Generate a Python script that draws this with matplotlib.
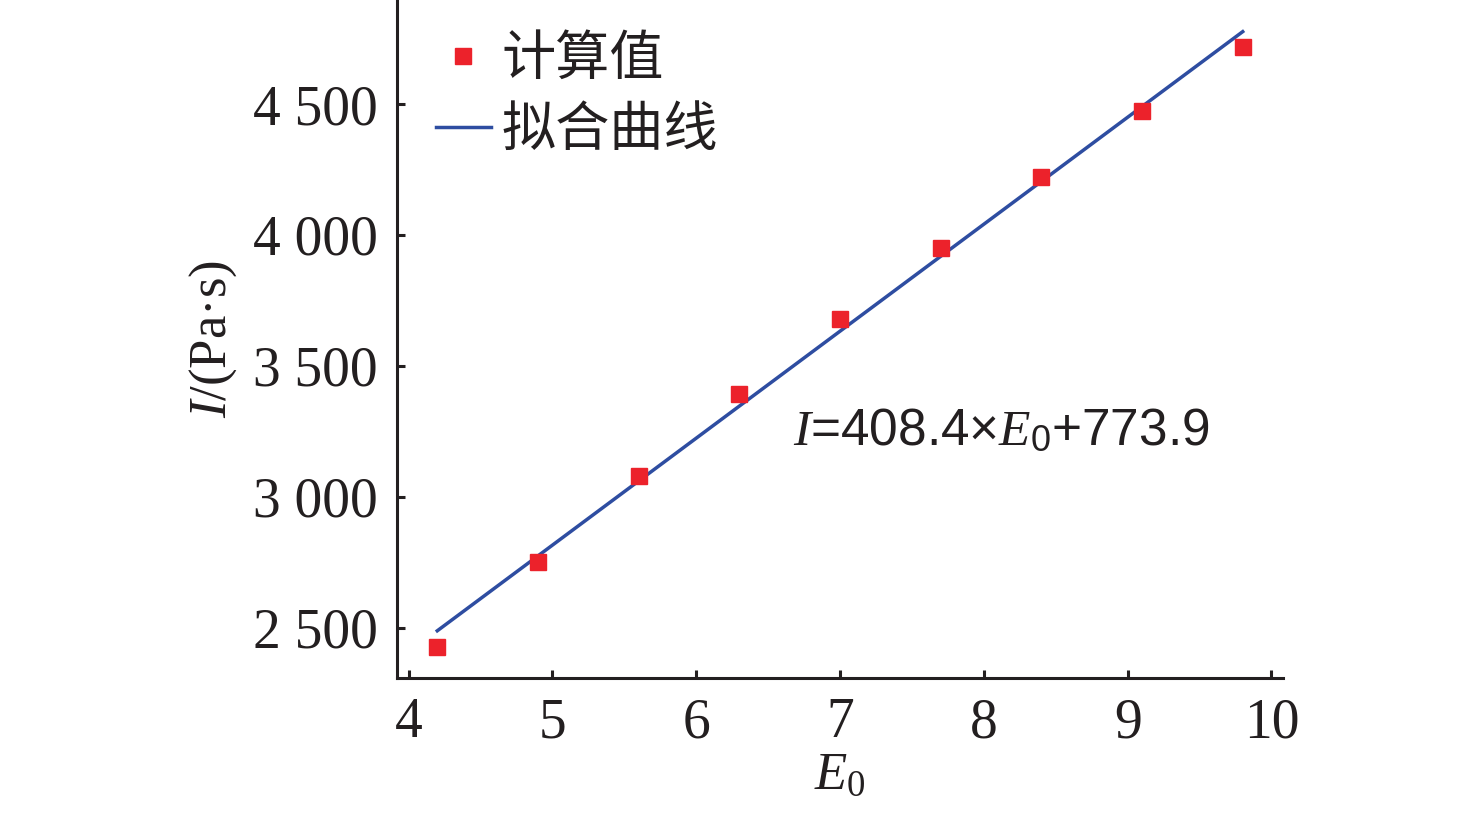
import numpy as np
import matplotlib
matplotlib.use("Agg")
import matplotlib.pyplot as plt
from matplotlib.ticker import FuncFormatter

plt.rcParams["font.family"] = ["Liberation Serif", "DejaVu Serif"]
plt.rcParams["mathtext.fontset"] = "custom"
plt.rcParams["mathtext.it"] = "Liberation Serif:italic"
plt.rcParams["mathtext.rm"] = "Liberation Serif"

# data
e0 = [4.2, 4.9, 5.6, 6.3, 7.0, 7.7, 8.4, 9.1, 9.8]
i_calc = [2427, 2752, 3080, 3393, 3679, 3950, 4221, 4473, 4718]
slope = 408.4
intercept = 773.9

red = "#EC222B"
blue = "#2E4DA1"

fig = plt.figure(figsize=(14.76, 8.26), dpi=100)
ax = fig.add_axes([397 / 1476, 148 / 826, 886 / 1476, 678 / 826])

x_fit = np.array([e0[0], e0[-1]])
ax.plot(e0, i_calc, "s", color=red, markersize=12, label="计算值", zorder=3)
ax.plot(x_fit, slope * x_fit + intercept, color=blue, linewidth=2.5, label="拟合曲线", zorder=2)

ax.set_xlim(3.92, 10.08)
ax.set_ylim(2309, 4897)
ax.set_xticks([4, 5, 6, 7, 8, 9, 10])
ax.set_yticks([2500, 3000, 3500, 4000, 4500])
ax.yaxis.set_major_formatter(FuncFormatter(lambda v, p: f"{int(v):,}".replace(",", " ")))

for s in ["top", "right"]:
    ax.spines[s].set_visible(False)
for s in ["left", "bottom"]:
    ax.spines[s].set_linewidth(2.2)
    ax.spines[s].set_color("#231F20")
ax.tick_params(direction="in", length=6, width=2.2, color="#231F20",
               labelsize=40, labelcolor="#231F20", pad=14)

ax.set_xlabel(r"$E_\mathregular{0}$", fontsize=38, color="#231F20", labelpad=2)
ax.set_ylabel(r"$I$/(Pa·s)", fontsize=38, color="#231F20", labelpad=10)

ax.text(6.67, 3248, r"$I$=408.4×$E_\mathregular{0}$+773.9", fontsize=37,
        family=["Liberation Sans", "DejaVu Sans"], color="#231F20", va="center")

ax.legend(loc="upper left", bbox_to_anchor=(0.02, 0.985), frameon=False,
          prop={"family": ["Noto Sans CJK SC", "DejaVu Sans"], "size": 39},
          handlelength=1.0, handletextpad=0.2, labelspacing=0.3, borderaxespad=0,
          labelcolor="#231F20")

fig.savefig("out.png", dpi=100)
